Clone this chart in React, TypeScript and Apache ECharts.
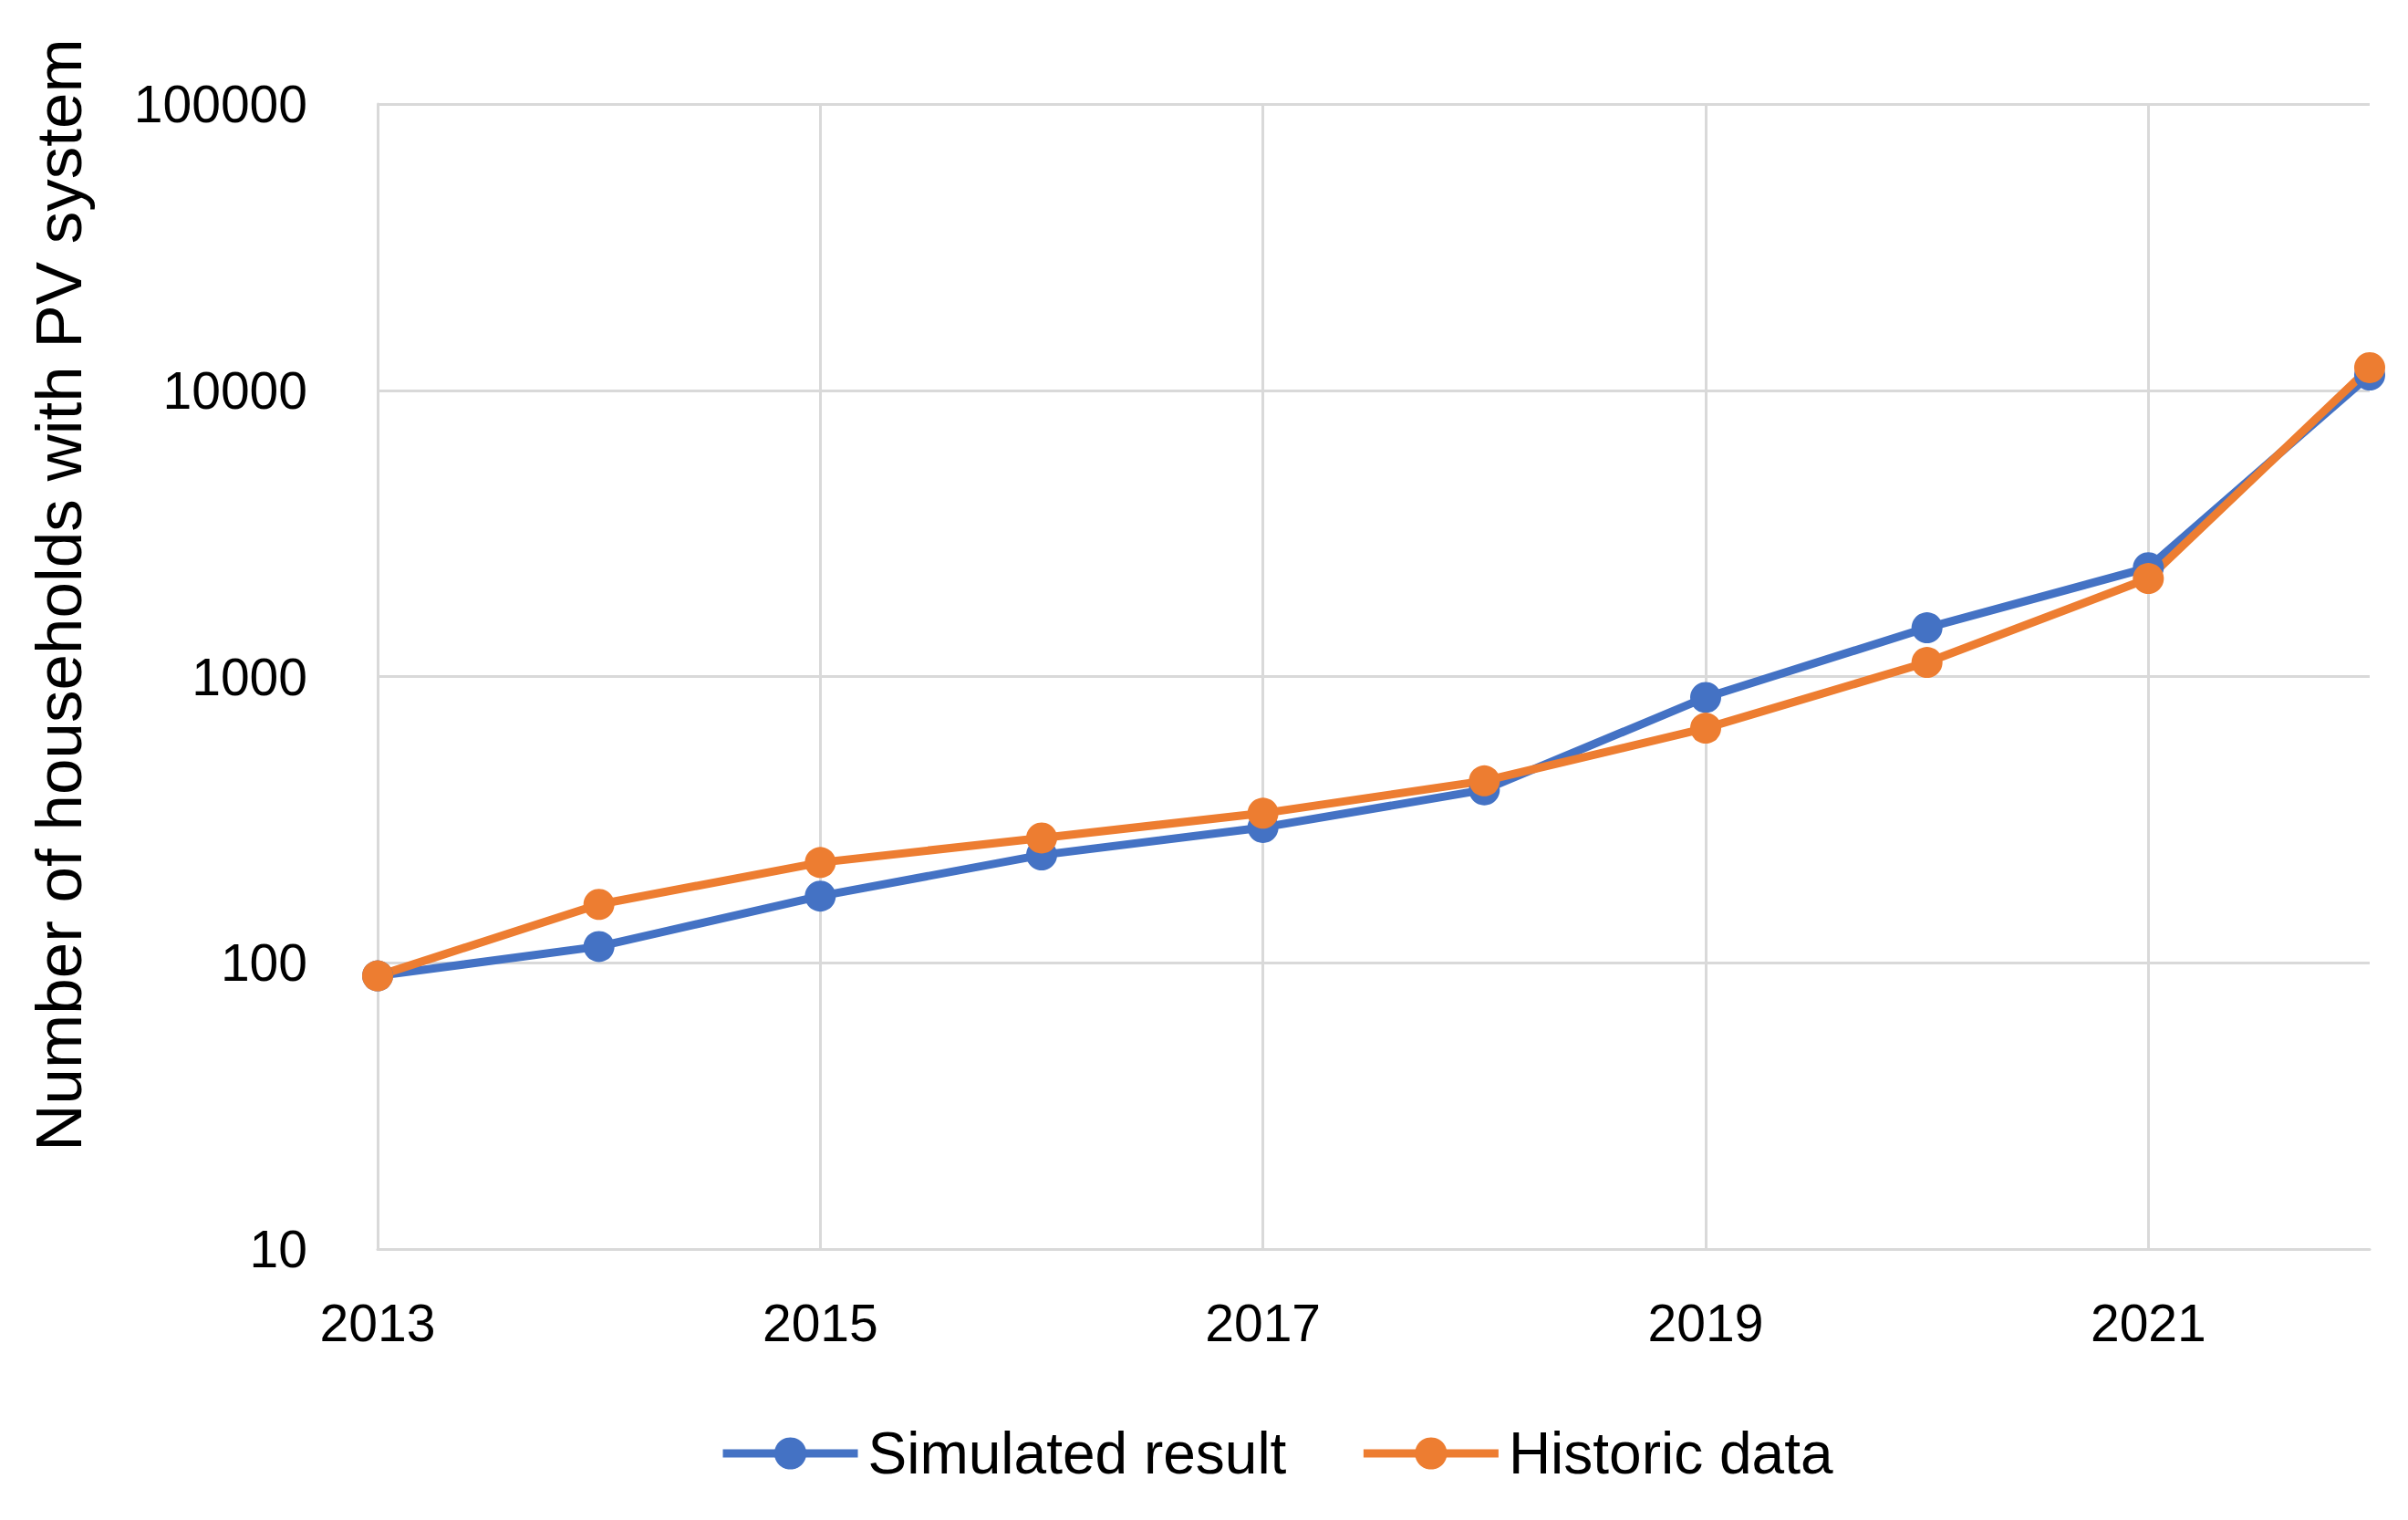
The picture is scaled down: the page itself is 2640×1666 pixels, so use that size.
import React, { useEffect, useRef } from "react";
import * as echarts from "echarts";

const years = ["2013", "2014", "2015", "2016", "2017", "2018", "2019", "2020", "2021", "2022"];
const simulated = [90, 114, 171, 238, 297, 402, 845, 1480, 2400, 11300];
const historic = [90, 160, 224, 273, 333, 432, 660, 1120, 2200, 12000];
const yTitle = "Number of households with PV system";
const seriesNames = ["Simulated result", "Historic data"];

const FONT = "'Liberation Sans', Arial, sans-serif";
const GRID_COLOR = "#d9d9d9";

export default function App() {
  const ref = useRef<HTMLDivElement>(null);
  useEffect(() => {
    document.body.style.margin = "0";
    const chart = echarts.init(ref.current!, null, { renderer: "svg" });
    chart.setOption({
      animation: false,
      backgroundColor: "#ffffff",
      color: ["#4472C4", "#ED7D31"],
      grid: { left: 414, right: 42, top: 114, bottom: 297, containLabel: false },
      legend: {
        left: 783,
        top: 1556,
        itemWidth: 148,
        itemHeight: 44,
        itemGap: 80,
        lineStyle: { width: 9 },
        textStyle: { fontFamily: FONT, fontSize: 64, color: "#000", padding: [0, 0, 0, 6] },
        data: seriesNames,
      },
      graphic: [
        {
          type: "text",
          x: 64,
          y: 652,
          rotation: Math.PI / 2,
          style: {
            text: yTitle,
            fontFamily: FONT,
            fontSize: 71,
            fill: "#000",
            align: "center",
            verticalAlign: "middle",
          },
        },
      ],
      xAxis: {
        type: "category",
        data: years,
        boundaryGap: false,
        axisLine: { show: true, lineStyle: { color: GRID_COLOR, width: 3 } },
        axisTick: { show: false },
        axisLabel: {
          interval: 1,
          margin: 52,
          fontFamily: FONT,
          fontSize: 57,
          color: "#000",
        },
        splitLine: { show: true, interval: 1, lineStyle: { color: GRID_COLOR, width: 3 } },
      },
      yAxis: {
        type: "log",
        logBase: 10,
        min: 10,
        max: 100000,
        axisLine: { show: true, lineStyle: { color: GRID_COLOR, width: 3 } },
        axisTick: { show: false },
        axisLabel: {
          margin: 77,
          fontFamily: FONT,
          fontSize: 57,
          color: "#000",
          formatter: (v: number) => String(Math.round(v)),
        },
        splitLine: { show: true, lineStyle: { color: GRID_COLOR, width: 3 } },
      },
      series: [
        {
          name: seriesNames[0],
          type: "line",
          data: simulated,
          symbol: "circle",
          symbolSize: 34,
          lineStyle: { width: 9 },
        },
        {
          name: seriesNames[1],
          type: "line",
          data: historic,
          symbol: "circle",
          symbolSize: 34,
          lineStyle: { width: 9 },
        },
      ],
    });
    return () => chart.dispose();
  }, []);
  return (
    <div
      ref={ref}
      style={{ position: "absolute", left: 0, top: 0, width: 2640, height: 1666 }}
    />
  );
}
